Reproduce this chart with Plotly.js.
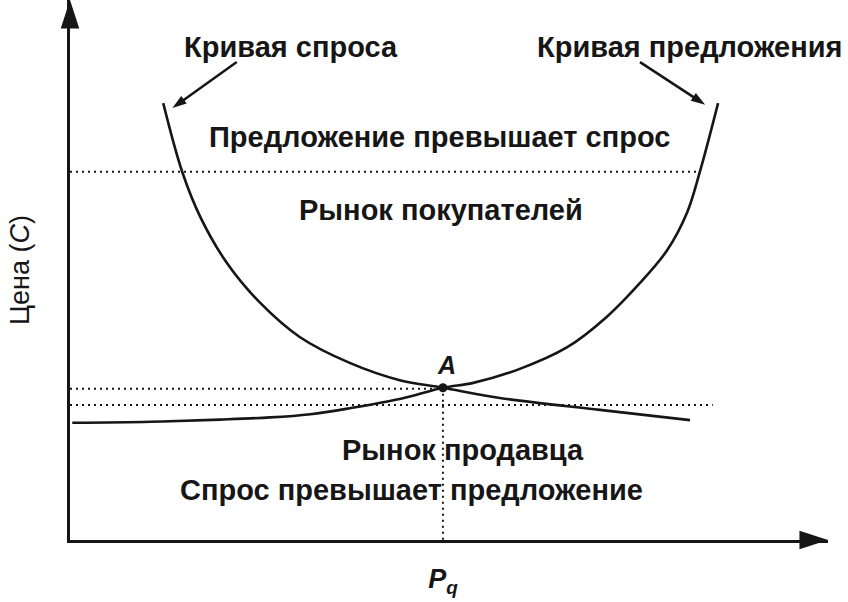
<!DOCTYPE html>
<html>
<head>
<meta charset="utf-8">
<script src="https://cdn.plot.ly/plotly-3.0.1.min.js"></script>
<style>html,body{margin:0;padding:0;background:#fff;}#chart{width:848px;height:602px;}</style>
</head>
<body>
<div id="chart"></div>
<script>
// Demand curve (quantity, price)
const demandQ = [1.23, 1.48, 1.72, 2.07, 2.51, 3.03, 3.69, 4.35, 4.92, 5.67, 6.99, 8.18];
const demandP = [8.09, 6.82, 5.98, 5.13, 4.39, 3.76, 3.28, 2.96, 2.82, 2.63, 2.41, 2.22];
// Supply curve (quantity, price)
const supplyQ = [0.03, 1.06, 1.98, 2.64, 3.17, 3.69, 4.35, 4.92, 5.32, 5.90, 6.56, 7.08, 7.52, 7.88, 8.14, 8.31, 8.55];
const supplyP = [2.17, 2.19, 2.23, 2.27, 2.33, 2.44, 2.61, 2.82, 2.91, 3.15, 3.57, 4.13, 4.76, 5.37, 6.06, 6.82, 8.09];
// Equilibrium point A
const eqQ = 4.92;
const eqP = 2.82;
// Dotted price levels and where they end
const levelP = [6.82, 2.80, 2.50];
const levelEndQ = [8.31, 4.92, 8.48];
// Axis extents (arrow tips)
const axisMaxQ = 10;
const axisMaxP = 10;
// Labels
const regionLabels = ["Предложение превышает спрос", "Рынок покупателей", "Рынок продавца", "Спрос превышает предложение"];
const regionQ = [4.88, 4.89, 5.18, 4.50];
const regionP = [7.46, 6.11, 1.67, 0.93];
const curveLabels = ["Кривая спроса", "Кривая предложения"];
const curveLabelQ = [2.92, 8.18];
const curveLabelP = [9.13, 9.13];
const curveTipQ = [1.35, 8.38];
const curveTipP = [8.00, 8.06];
const curveTailQ = [2.20, 7.52];
const curveTailP = [8.85, 8.85];
const xTickText = "<i>P<sub>q</sub></i>";
const yTitle = "Цена (<i>C</i>)";
const pointLabel = "<i>A</i>";

const ink = "#161616";
const FONT = "Liberation Sans, Arial, Helvetica, sans-serif";

const traces = [];
levelP.forEach((p, i) => {
  traces.push({x: [0, levelEndQ[i]], y: [p, p], mode: "lines", hoverinfo: "skip",
    line: {color: ink, width: 2, dash: "2px,4px"}});
});
traces.push({x: [eqQ, eqQ], y: [eqP, 0], mode: "lines", hoverinfo: "skip",
  line: {color: ink, width: 2, dash: "2px,4px"}});
traces.push({x: demandQ, y: demandP, mode: "lines", name: "Кривая спроса",
  line: {color: ink, width: 2.6, shape: "spline", smoothing: 1}});
traces.push({x: supplyQ, y: supplyP, mode: "lines", name: "Кривая предложения",
  line: {color: ink, width: 2.6, shape: "spline", smoothing: 1}});
traces.push({x: [eqQ], y: [eqP], mode: "markers", marker: {color: ink, size: 9}});
// pointer arrows from curve labels
curveLabels.forEach((t, i) => {
  traces.push({x: [curveTailQ[i], curveTipQ[i]], y: [curveTailP[i], curveTipP[i]],
    mode: "lines+markers", hoverinfo: "skip",
    line: {color: ink, width: 2.5},
    marker: {symbol: "arrow", size: 15, angleref: "previous", color: ink}});
});
// arrowheads at the ends of the axes
traces.push({x: [axisMaxQ], y: [0], mode: "markers", cliponaxis: false, hoverinfo: "skip",
  marker: {symbol: "arrow", size: 30, angle: 90, color: ink}});
traces.push({x: [0], y: [axisMaxP], mode: "markers", cliponaxis: false, hoverinfo: "skip",
  marker: {symbol: "arrow", size: 30, angle: 0, color: ink}});

const annotations = [];
regionLabels.forEach((t, i) => {
  annotations.push({x: regionQ[i], y: regionP[i], xref: "x", yref: "y", text: t, showarrow: false,
    font: {family: FONT, size: 29, weight: 700, color: ink}});
});
curveLabels.forEach((t, i) => {
  annotations.push({x: curveLabelQ[i], y: curveLabelP[i], xref: "x", yref: "y", text: t, showarrow: false,
    font: {family: FONT, size: 29, weight: 700, color: ink}});
});
annotations.push({x: eqQ + 0.05, y: eqP + 0.42, xref: "x", yref: "y", text: pointLabel, showarrow: false,
  font: {family: FONT, size: 25, weight: 700, color: ink}});

const layout = {
  width: 848, height: 602,
  margin: {l: 70, r: 20, t: 0, b: 62, pad: 0},
  paper_bgcolor: "#ffffff", plot_bgcolor: "#ffffff",
  showlegend: false,
  xaxis: {range: [0, axisMaxQ], showgrid: false, zeroline: false,
    showline: true, linewidth: 3, linecolor: ink,
    tickmode: "array", tickvals: [eqQ], ticktext: [xTickText], ticks: "",
    ticklabelstandoff: 13,
    tickfont: {family: FONT, size: 27, weight: 700, color: ink}, fixedrange: true},
  yaxis: {range: [0, axisMaxP], showgrid: false, zeroline: false,
    showline: true, linewidth: 3, linecolor: ink,
    showticklabels: false, ticks: "",
    title: {text: yTitle, standoff: 30, font: {family: FONT, size: 27, weight: 400, color: ink}}, fixedrange: true},
  annotations: annotations
};

Plotly.newPlot("chart", traces, layout, {displayModeBar: false, staticPlot: true});
</script>
</body>
</html>
